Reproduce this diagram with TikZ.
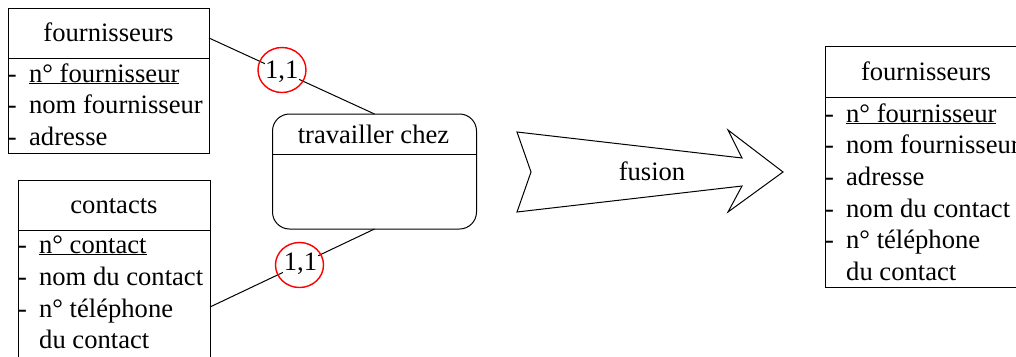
\documentclass[tikz,border=0pt]{standalone}
\usepackage{fontspec}
\setmainfont{Liberation Serif}
\usetikzlibrary{shapes.geometric}
\newcommand{\tiret}{-\hspace{12.3pt}}
\tikzset{
	entity/.style={draw, line width=1pt, outer sep=0pt, anchor=north west},
	txt/.style={inner sep=0pt, font=\fontsize{26.6pt}{32pt}\selectfont},
	attr/.style={txt, anchor=base west},
	title/.style={txt, anchor=base},
	card/.style={ellipse, draw=red, line width=1.4pt, minimum width=48pt, minimum height=45pt, inner sep=0pt}
}
\begin{document}
\begin{tikzpicture}[x=1pt, y=-1pt, line width=1pt]
	\useasboundingbox (0,0) rectangle (1016,356);
	% fournisseurs
	\node [entity, minimum width=201pt, minimum height=145pt] (four) at (8,8) {};
	\draw (four.west |- 0,58) -- (four.east |- 0,58);
	\node [title] (fourT) at (108.5,41) {fournisseurs};
	\node [attr] (fourA) at (7.5,82) {\tiret\underline{n° fournisseur}};
	\node [attr] (fourB) at (7.5,113) {\tiret nom fournisseur};
	\node [attr] (fourC) at (7.5,145) {\tiret adresse};
	% contacts
	\node [entity, minimum width=192pt, minimum height=190pt] (cont) at (18,180) {};
	\draw (cont.west |- 0,230) -- (cont.east |- 0,230);
	\node [title] (contT) at (114,213) {contacts};
	\node [attr] (contA) at (17.5,253) {\tiret\underline{n° contact}};
	\node [attr] (contB) at (17.5,285) {\tiret nom du contact};
	\node [attr] (contC) at (17.5,317) {\tiret n° téléphone};
	\node [attr] (contD) at (38.7,348) {du contact};
	% travailler chez
	\node [draw, rounded corners=17pt, minimum width=204pt, minimum height=115pt, outer sep=0pt] (trav) at (374.5,171.5) {};
	\draw (trav.west |- 0,154) -- (trav.east |- 0,154);
	\node [title] (travT) at (373.5,143) {travailler chez};
	\coordinate (fourE) at (four.east |- 0,38);
	\coordinate (contE) at (cont.east |- 0,307);
	\draw (fourE) -- node [pos=0.44, txt, fill=white, inner sep=0.5pt] (card1) {1,1} (trav.north);
	\draw (contE) -- node [pos=0.55, txt, fill=white, inner sep=0.5pt] (card2) {1,1} (trav.south);
	\node [card] (ring1) at (282,70) {};
	\node [card] (ring2) at (299.5,265) {};
	% fusion
	\draw (517,132) -- (742,158) -- (728,130) -- (783,172) -- (728,212) -- (742,186) -- (517,212) -- (531,172) -- cycle;
	\node [title] (fus) at (652,180) {fusion};
	% fournisseurs apres fusion
	\node [entity, minimum width=202pt, minimum height=241pt] (res) at (825,46) {};
	\draw (res.west |- 0,97) -- (res.east |- 0,97);
	\node [title] (resT) at (926,80) {fournisseurs};
	\node [attr] (resA) at (824.5,122) {\tiret\underline{n° fournisseur}};
	\node [attr] (resB) at (824.5,153) {\tiret nom fournisseur};
	\node [attr] (resC) at (824.5,185) {\tiret adresse};
	\node [attr] (resD) at (824.5,217) {\tiret nom du contact};
	\node [attr] (resE) at (824.5,248) {\tiret n° téléphone};
	\node [attr] (resF) at (845.7,280) {du contact};
\end{tikzpicture}
\end{document}
